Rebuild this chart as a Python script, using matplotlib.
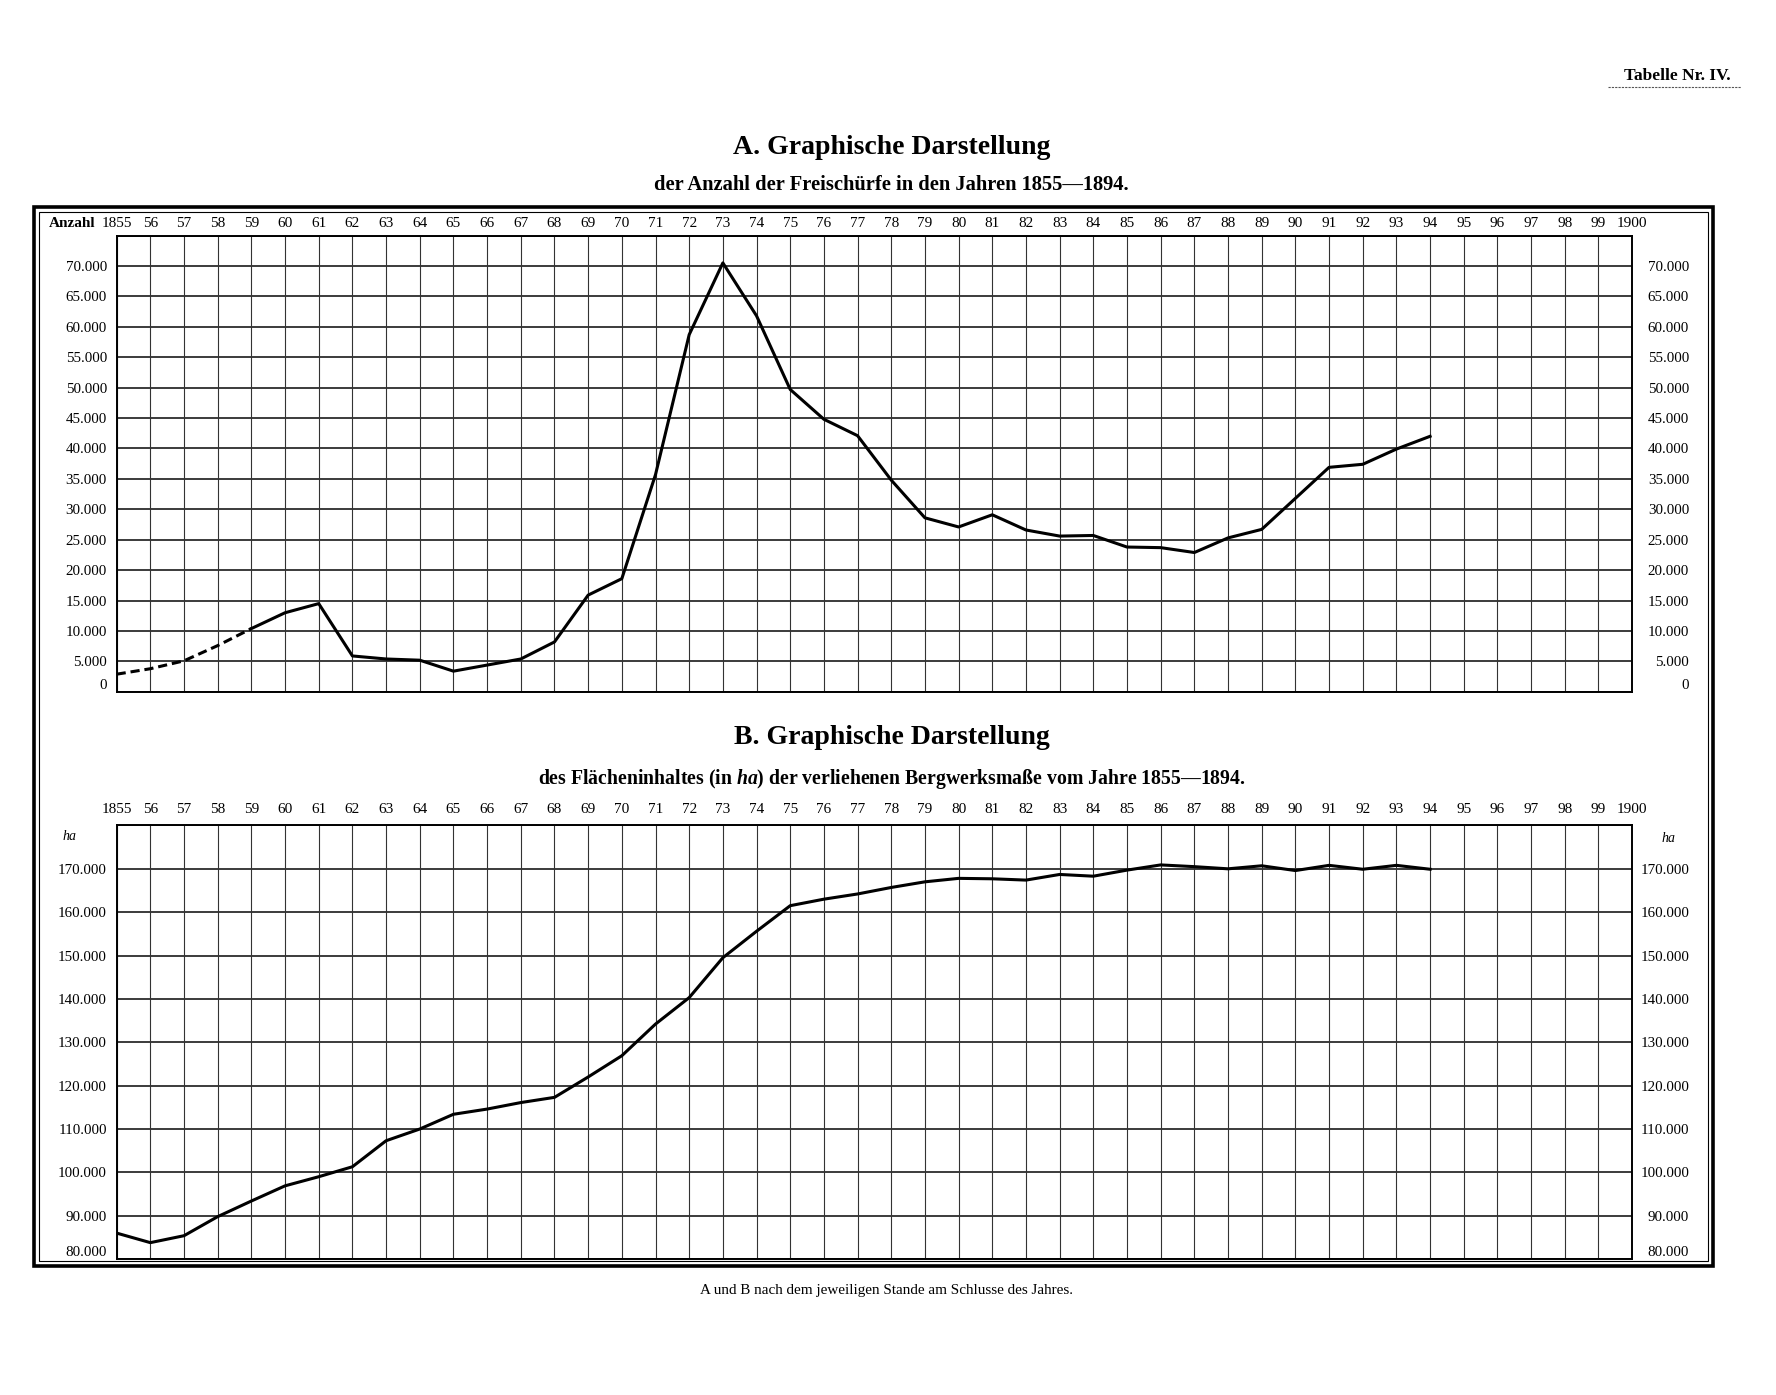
import matplotlib
matplotlib.use("Agg")
import matplotlib.pyplot as plt
import numpy as np
from matplotlib.lines import Line2D
from matplotlib.patches import Rectangle
from matplotlib.ticker import FuncFormatter

plt.rcParams["font.family"] = ["Liberation Serif", "DejaVu Serif"]
plt.rcParams["mathtext.fontset"] = "custom"
plt.rcParams["mathtext.rm"] = "Liberation Serif:bold"
plt.rcParams["mathtext.it"] = "Liberation Serif:italic:bold"

# --- data ---
years = list(range(1855, 1895))
grid_years = list(range(1855, 1901))
year_labels = ["1855"] + [f"{y % 100:02d}" for y in range(1856, 1900)] + ["1900"]

# A: Anzahl der Freischürfe (1855-1859 dashed in the original)
freischuerfe = [2900, 3800, 5100, 7600, 10400, 13000, 14500, 5900, 5400, 5200,
                3400, 4400, 5400, 8200, 15900, 18600, 35700, 58700, 70500, 61800,
                49700, 44800, 42100, 34800, 28600, 27100, 29100, 26600, 25600, 25700,
                23800, 23700, 22900, 25300, 26700, 31800, 36900, 37400, 39900, 42000]
n_dashed = 5

# B: Flächeninhalt der verliehenen Bergwerksmaße in ha
flaeche_ha = [86000, 83800, 85400, 89800, 93400, 96900, 99000, 101300, 107300, 110000,
              113400, 114600, 116100, 117300, 122000, 126900, 134200, 140300, 149500, 155600,
              161500, 163000, 164200, 165700, 167000, 167800, 167700, 167400, 168700, 168300,
              169700, 170900, 170500, 170000, 170700, 169600, 170800, 169900, 170800, 169900]

a_ticks = list(range(0, 75000, 5000))
a_grid = list(range(0, 80000, 5000))
b_ticks = list(range(80000, 180000, 10000))
b_grid = list(range(80000, 190000, 10000))


def fmt(v, pos=None):
    return "0" if v == 0 else f"{int(v):,}".replace(",", ".")


def fx(x):
    return x / 1568


def fy(y):
    return 1 - y / 1232


def setup_panel(ax, ylim, yticks, ygrid, xpad):
    ax.set_xlim(1855, 1900)
    ax.set_ylim(*ylim)
    ax.set_xticks(grid_years)
    ax.set_xticklabels(year_labels)
    ax.xaxis.tick_top()
    ax.tick_params(axis="x", length=0, pad=xpad, labelsize=11)
    ax.set_yticks(yticks)
    ax.yaxis.set_major_formatter(FuncFormatter(fmt))
    ax.tick_params(axis="y", length=0, pad=7, labelsize=10.8)
    for y in ygrid:
        ax.axhline(y, color="#1a1a1a", lw=1.2, zorder=1)
    for x in grid_years:
        ax.axvline(x, color="#333333", lw=0.8, zorder=1)
    for s in ax.spines.values():
        s.set_linewidth(1.4)

    right = ax.twinx()
    right.set_ylim(*ylim)
    right.set_yticks(yticks)
    right.yaxis.set_major_formatter(FuncFormatter(fmt))
    right.tick_params(axis="y", length=0, pad=41, labelsize=10.8)
    for lab in right.get_yticklabels():
        lab.set_horizontalalignment("right")
    for s in right.spines.values():
        s.set_visible(False)
    # lowest value sits just above the bottom edge, as on the plate
    ax.get_yticklabels()[0].set_verticalalignment("bottom")
    right.get_yticklabels()[0].set_verticalalignment("bottom")
    return right


fig = plt.figure(figsize=(17.76, 13.95), dpi=100)

# double frame round both panels
fig.add_artist(Rectangle((fx(30), fy(1118)), fx(1512) - fx(30), fy(183) - fy(1118),
                         transform=fig.transFigure, fill=False, lw=2.6, ec="black"))
fig.add_artist(Rectangle((fx(34), fy(1114)), fx(1508) - fx(34), fy(187) - fy(1114),
                         transform=fig.transFigure, fill=False, lw=0.8, ec="black"))

# panel A
ax_a = fig.add_axes([fx(103), fy(611), fx(1441) - fx(103), fy(208) - fy(611)])
setup_panel(ax_a, (0, 75000), a_ticks, a_grid, xpad=4)
ax_a.plot(years[:n_dashed], freischuerfe[:n_dashed], color="black", lw=2.2,
          ls=(0, (3, 1.6)), zorder=3)
ax_a.plot(years[n_dashed - 1:], freischuerfe[n_dashed - 1:], color="black", lw=2.2, zorder=3)
ax_a.annotate("Anzahl", xy=(0, 1), xycoords="axes fraction", xytext=(-15, 4),
              textcoords="offset points", ha="right", va="bottom", fontsize=11,
              fontweight="bold")

# panel B
ax_b = fig.add_axes([fx(103), fy(1112), fx(1441) - fx(103), fy(729) - fy(1112)])
setup_panel(ax_b, (80000, 180000), b_ticks, b_grid, xpad=7)
ax_b.plot(years, flaeche_ha, color="black", lw=2.2, zorder=3)
ax_b.annotate("ha", xy=(0, 177500), xycoords=("axes fraction", "data"), xytext=(-34, 0),
              textcoords="offset points", ha="center", va="center", fontsize=10,
              style="italic")
ax_b.annotate("ha", xy=(1, 177000), xycoords=("axes fraction", "data"), xytext=(26, 0),
              textcoords="offset points", ha="center", va="center", fontsize=10,
              style="italic")

# headings
fig.text(fx(1481), fy(67), "Tabelle Nr. IV.", ha="center", va="center", fontsize=12.5,
         fontweight="bold")
fig.add_artist(Line2D([fx(1420), fx(1537)], [fy(77), fy(77)], transform=fig.transFigure,
                      color="#555555", lw=0.8, ls=(0, (2, 1))))
fig.text(fx(787), fy(130), "A. Graphische Darstellung", ha="center", va="center",
         fontsize=20, fontweight="bold")
fig.text(fx(787), fy(163), "der Anzahl der Freischürfe in den Jahren 1855—1894.",
         ha="center", va="center", fontsize=14.8, fontweight="bold")
fig.text(fx(787), fy(651), "B. Graphische Darstellung", ha="center", va="center",
         fontsize=20, fontweight="bold")
fig.text(fx(787), fy(688),
         r"des Flächeninhaltes (in $\mathit{ha}$) der verliehenen Bergwerksmaße vom Jahre 1855—1894.",
         ha="center", va="center", fontsize=14.2, fontweight="bold")
fig.text(fx(783), fy(1140), "A und B nach dem jeweiligen Stande am Schlusse des Jahres.",
         ha="center", va="center", fontsize=10.9)

fig.savefig("out.png", dpi=100)
